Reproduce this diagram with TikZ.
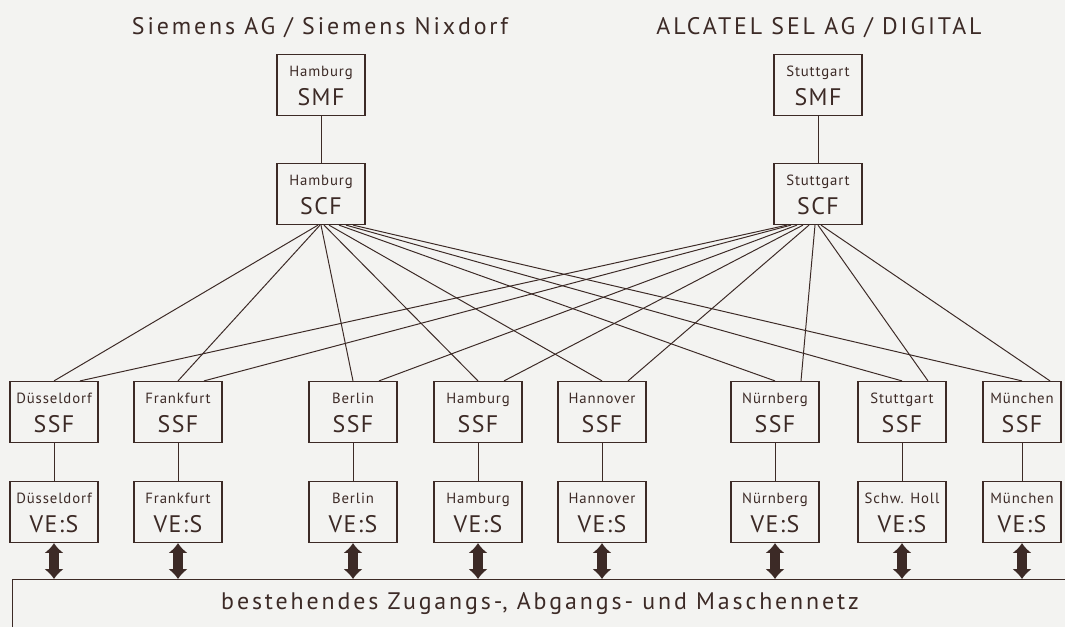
\documentclass[tikz,border=0pt]{standalone}
\usepackage{fontspec}
\setmainfont[LetterSpace=6]{PT Sans}
\newfontfamily\widefont[LetterSpace=12]{PT Sans}
\usepackage{tikz}
\usetikzlibrary{arrows.meta}
\usetikzlibrary{calc}
\definecolor{ink}{RGB}{60,42,38}
\definecolor{paper}{RGB}{243,243,241}
\newcommand{\ctfont}{\fontsize{10.5}{12}\selectfont\strut}
\newcommand{\cdfont}{\fontsize{17}{19}\selectfont}

\begin{document}
\begin{tikzpicture}[x=0.025cm, y=-0.025cm]
			\tikzset{box/.style={shape = rectangle, draw = ink, line width = 1pt, minimum width = 2.2cm, minimum height = 1.52cm, align = center, inner sep = 0pt, text = ink}}
			\tikzset{link/.style={draw = ink, line width = 0.7pt}}
			\tikzset{trunk/.style={{Latex[length=7pt,width=14pt]}-{Latex[length=7pt,width=14pt]}, draw = ink, line width = 6.5pt}}
			\tikzset{caption/.style={text = ink, font = \widefont\fontsize{17}{20}\selectfont}}
			\fill[paper] (0,0) rectangle (1065,627);
			\useasboundingbox (0,0) rectangle (1065,627);
			%titles
			\node[caption] (tsie) at (320,28) {Siemens AG / Siemens Nixdorf};
			\node[caption] (talc) at (819,28) {ALCATEL SEL AG / DIGITAL};
			%management and control
			\node[box] (hsmf) at (321,85) {\ctfont Hamburg\\[4pt]\cdfont SMF};
			\node[box] (hscf) at (321,194) {\ctfont Hamburg\\[4pt]\cdfont SCF};
			\node[box] (ssmf) at (818,85) {\ctfont Stuttgart\\[4pt]\cdfont SMF};
			\node[box] (sscf) at (818,194) {\ctfont Stuttgart\\[4pt]\cdfont SCF};
			%switching
			\node[box] (sdus) at (54,412) {\ctfont Düsseldorf\\[4pt]\cdfont SSF};
			\node[box] (sfra) at (178,412) {\ctfont Frankfurt\\[4pt]\cdfont SSF};
			\node[box] (sber) at (353,412) {\ctfont Berlin\\[4pt]\cdfont SSF};
			\node[box] (sham) at (478,412) {\ctfont Hamburg\\[4pt]\cdfont SSF};
			\node[box] (shan) at (602,412) {\ctfont Hannover\\[4pt]\cdfont SSF};
			\node[box] (snue) at (775,412) {\ctfont Nürnberg\\[4pt]\cdfont SSF};
			\node[box] (sstu) at (902,412) {\ctfont Stuttgart\\[4pt]\cdfont SSF};
			\node[box, minimum width = 1.95cm] (smue) at (1022,412) {\ctfont München\\[4pt]\cdfont SSF};
			%exchanges
			\node[box] (vdus) at (54,512) {\ctfont Düsseldorf\\[4pt]\cdfont VE:S};
			\node[box] (vfra) at (178,512) {\ctfont Frankfurt\\[4pt]\cdfont VE:S};
			\node[box] (vber) at (353,512) {\ctfont Berlin\\[4pt]\cdfont VE:S};
			\node[box] (vham) at (478,512) {\ctfont Hamburg\\[4pt]\cdfont VE:S};
			\node[box] (vhan) at (602,512) {\ctfont Hannover\\[4pt]\cdfont VE:S};
			\node[box] (vnue) at (775,512) {\ctfont Nürnberg\\[4pt]\cdfont VE:S};
			\node[box] (vsha) at (902,512) {\ctfont Schw. Holl\\[4pt]\cdfont VE:S};
			\node[box, minimum width = 1.95cm] (vmue) at (1022,512) {\ctfont München\\[4pt]\cdfont VE:S};
			%network
			\coordinate (busl) at (12,579);
			\coordinate (busr) at (1065,579);
			\coordinate (busb) at (12,627);
			\node[caption] (net) at (540,604) {bestehendes Zugangs-, Abgangs- und Maschennetz};
			%edges
			\draw[link] (hsmf) -- (hscf);
			\draw[link] (ssmf) -- (sscf);
			\draw[link] ($(hscf.south)+(-3,0)$) -- (sdus.north);
			\draw[link] ($(hscf.south)+(-1,0)$) -- (sfra.north);
			\draw[link] ($(hscf.south)+(0,0)$) -- (sber.north);
			\draw[link] ($(hscf.south)+(3,0)$) -- (sham.north);
			\draw[link] ($(hscf.south)+(8,0)$) -- (shan.north);
			\draw[link] ($(hscf.south)+(18,0)$) -- (snue.north);
			\draw[link] ($(hscf.south)+(25,0)$) -- (sstu.north);
			\draw[link] ($(hscf.south)+(32,0)$) -- (smue.north);
			\draw[link] ($(sscf.south)+(-31,0)$) -- ($(sdus.north)+(26,0)$);
			\draw[link] ($(sscf.south)+(-27,0)$) -- ($(sfra.north)+(26,0)$);
			\draw[link] ($(sscf.south)+(-21,0)$) -- ($(sber.north)+(26,0)$);
			\draw[link] ($(sscf.south)+(-15,0)$) -- ($(sham.north)+(26,0)$);
			\draw[link] ($(sscf.south)+(-9,0)$) -- ($(shan.north)+(26,0)$);
			\draw[link] ($(sscf.south)+(-3,0)$) -- ($(snue.north)+(26,0)$);
			\draw[link] ($(sscf.south)+(0,0)$) -- ($(sstu.north)+(26,0)$);
			\draw[link] ($(sscf.south)+(3,0)$) -- ($(smue.north)+(28,0)$);
			\draw[link] (sdus) -- (vdus);
			\draw[link] (sfra) -- (vfra);
			\draw[link] (sber) -- (vber);
			\draw[link] (sham) -- (vham);
			\draw[link] (shan) -- (vhan);
			\draw[link] (snue) -- (vnue);
			\draw[link] (sstu) -- (vsha);
			\draw[link] (smue) -- (vmue);
			\draw[link] (busb) -- (busl) -- (busr);
			\draw[trunk] (vdus.south) -- (vdus.south |- busl);
			\draw[trunk] (vfra.south) -- (vfra.south |- busl);
			\draw[trunk] (vber.south) -- (vber.south |- busl);
			\draw[trunk] (vham.south) -- (vham.south |- busl);
			\draw[trunk] (vhan.south) -- (vhan.south |- busl);
			\draw[trunk] (vnue.south) -- (vnue.south |- busl);
			\draw[trunk] (vsha.south) -- (vsha.south |- busl);
			\draw[trunk] (vmue.south) -- (vmue.south |- busl);
\end{tikzpicture}
\end{document}
